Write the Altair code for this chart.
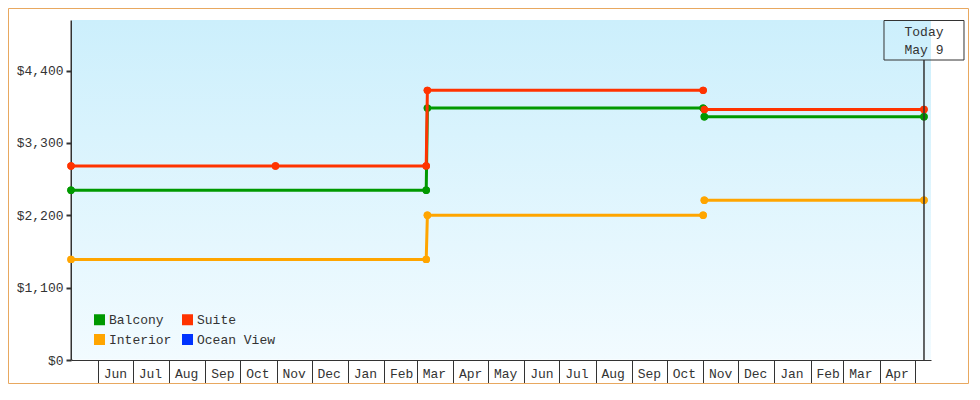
import altair as alt
import pandas as pd

FONT = "Liberation Mono"
INK = "#333333"

# ---- data -------------------------------------------------------------
series_names = ["Balcony", "Suite", "Interior", "Ocean View"]
series_colors = ["#009900", "#FF3300", "#FFA500", "#0033FF"]

balcony_dates = ["2017-05-09", "2018-03-09", "2018-03-10", "2018-11-01", "2018-11-02", "2019-05-09"]
balcony_prices = [2580, 2580, 3830, 3830, 3700, 3700]
balcony_segs = [1, 1, 1, 1, 2, 2]

suite_dates = ["2017-05-09", "2017-10-31", "2018-03-09", "2018-03-10", "2018-11-01", "2018-11-02", "2019-05-09"]
suite_prices = [2950, 2950, 2950, 4100, 4100, 3810, 3810]
suite_segs = [1, 1, 1, 1, 1, 2, 2]

interior_dates = ["2017-05-09", "2018-03-09", "2018-03-10", "2018-11-01", "2018-11-02", "2019-05-09"]
interior_prices = [1530, 1530, 2200, 2200, 2430, 2430]
interior_segs = [1, 1, 1, 1, 2, 2]

today_date = "2019-05-09"
today_lines = ["Today", "May 9"]

y_ticks = [0, 1100, 2200, 3300, 4400]
y_max = 5170
x_domain = ["2017-05-09", "2019-05-15"]
month_ticks = [
    "2017-06-01", "2017-07-01", "2017-08-01", "2017-09-01", "2017-10-01", "2017-11-01",
    "2017-12-01", "2018-01-01", "2018-02-01", "2018-03-01", "2018-04-01", "2018-05-01",
    "2018-06-01", "2018-07-01", "2018-08-01", "2018-09-01", "2018-10-01", "2018-11-01",
    "2018-12-01", "2019-01-01", "2019-02-01", "2019-03-01", "2019-04-01", "2019-05-01",
]

# ---- tables -------------------------------------------------------------
rows = []
for name, dates, prices, segs in [
    ("Interior", interior_dates, interior_prices, interior_segs),
    ("Balcony", balcony_dates, balcony_prices, balcony_segs),
    ("Suite", suite_dates, suite_prices, suite_segs),
]:
    for d, p, s in zip(dates, prices, segs):
        rows.append({"series": name, "date": d + "T00:00:00", "price": p, "seg": s})
prices_df = pd.DataFrame(rows)

today_df = pd.DataFrame({"date": [today_date + "T00:00:00"]})
one = pd.DataFrame({"a": [0]})


def dt(s):
    y, m, d = (int(v) for v in s.split("-"))
    return alt.DateTime(year=y, month=m, date=d)


W, H = 860, 340

x_enc = alt.X(
    "date:T",
    scale=alt.Scale(domain=[dt(x_domain[0]), dt(x_domain[1])]),
    axis=alt.Axis(
        values=[dt(s) for s in month_ticks],
        labelExpr="datum.value >= datetime(2019, 3, 15) ? '' : timeFormat(datum.value, '%b')",
        tickSize=25, tickWidth=1, tickColor=INK,
        domainColor=INK, domainWidth=1,
        labelOffset=17, labelPadding=-12, labelBaseline="middle", labelAlign="center",
        labelFont=FONT, labelFontSize=13, labelColor=INK,
        labelFlush=False, labelOverlap=False, labelBound=False,
        grid=False, title=None,
    ),
)
y_enc = alt.Y(
    "price:Q",
    scale=alt.Scale(domain=[0, y_max], nice=False, zero=True),
    axis=alt.Axis(
        values=y_ticks, format="$,.0f",
        tickSize=5, tickWidth=2, tickColor=INK,
        domainColor=INK, domainWidth=2,
        labelFont=FONT, labelFontSize=13, labelColor=INK, labelPadding=3,
        grid=False, title=None,
    ),
)
color_enc = alt.Color(
    "series:N",
    scale=alt.Scale(domain=series_names, range=series_colors),
    legend=alt.Legend(
        orient="none", legendX=22, legendY=293, columns=2, direction="horizontal",
        symbolType="square", symbolSize=121, symbolStrokeWidth=0, symbolOpacity=1,
        labelFont=FONT, labelFontSize=13, labelColor=INK, labelOffset=3,
        columnPadding=9, rowPadding=6, padding=0, title=None,
    ),
)

border = alt.Chart(one).mark_rect(filled=False, stroke="#E8A860", strokeWidth=1).encode(
    x=alt.value(-62.5), x2=alt.value(W + 38 - 0.5),
    y=alt.value(-11.5), y2=alt.value(H + 24 - 0.5),
)

bg = alt.Chart(one).mark_rect(
    fill=alt.Gradient(
        gradient="linear",
        stops=[alt.GradientStop(color="#CCEFFC", offset=0),
               alt.GradientStop(color="#F2FBFF", offset=1)],
        x1=0, x2=0, y1=0, y2=1,
    )
).encode(x=alt.value(1), x2=alt.value(W), y=alt.value(0), y2=alt.value(H - 0.5))

legend_pts = alt.Chart(prices_df).mark_circle(size=55, opacity=1).encode(
    x=x_enc, y=y_enc, color=color_enc
)

layers = [border, bg, legend_pts]
for name in ["Interior", "Balcony", "Suite"]:
    base = alt.Chart(prices_df).transform_filter(alt.datum.series == name)
    layers.append(base.mark_line(strokeWidth=3).encode(
        x=x_enc, y=y_enc, color=color_enc, detail="seg:N"))
    layers.append(base.mark_circle(size=55, opacity=1).encode(
        x=x_enc, y=y_enc, color=color_enc))

bottom_rule = alt.Chart(one).mark_rule(color=INK, strokeWidth=1).encode(
    x=alt.value(0), x2=alt.value(W), y=alt.value(H + 25)
)
today_rule = alt.Chart(today_df).mark_rule(color=INK, strokeWidth=1.5).encode(
    x=x_enc, y=alt.value(40), y2=alt.value(H)
)
today_box = alt.Chart(today_df).mark_rect(
    filled=False, color=INK, strokeWidth=1, xOffset=-40, x2Offset=40
).encode(x=x_enc, x2=alt.X2("date"), y=alt.value(0.5), y2=alt.value(40))
today_text1 = alt.Chart(today_df).mark_text(
    font=FONT, fontSize=13, color=INK, align="center", baseline="middle",
    text=today_lines[0],
).encode(x=x_enc, y=alt.value(12))
today_text2 = alt.Chart(today_df).mark_text(
    font=FONT, fontSize=13, color=INK, align="center", baseline="middle",
    text=today_lines[1],
).encode(x=x_enc, y=alt.value(30))

chart = alt.layer(
    *layers, bottom_rule, today_rule, today_box, today_text1, today_text2
).properties(
    width=W, height=H,
    padding={"left": 63, "top": 12, "right": 38, "bottom": 24},
    autosize=alt.AutoSizeParams(type="none"),
    background="white",
).configure_view(stroke=None)

chart.save("out.html", embed_options={"renderer": "svg", "actions": False})
